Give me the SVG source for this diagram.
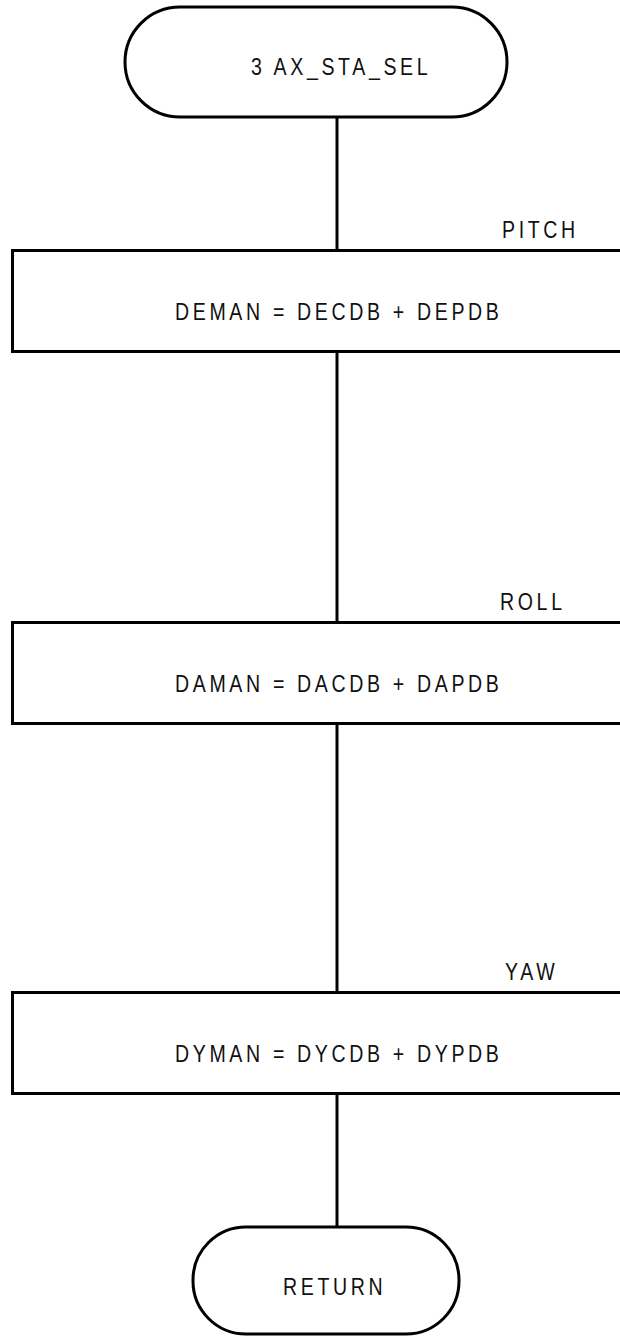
<svg xmlns="http://www.w3.org/2000/svg" width="620" height="1336" viewBox="0 0 620 1336">
<style>
.shape{fill:#fff;stroke:#000;stroke-width:3}
.conn{stroke:#000;stroke-width:3;fill:none}
text{font-family:"Liberation Sans",Arial,sans-serif;font-size:23px;letter-spacing:4.3px;fill:#111}
</style>
<rect width="620" height="1336" fill="#fff"/>
<g id="connectors">
<line class="conn" x1="337" y1="117" x2="337" y2="250"/>
<line class="conn" x1="337" y1="352" x2="337" y2="622"/>
<line class="conn" x1="337" y1="724" x2="337" y2="992"/>
<line class="conn" x1="337" y1="1094" x2="337" y2="1227"/>
</g>
<g id="start">
<rect class="shape" x="125" y="7" width="382" height="110" rx="55" ry="55"/>
<text transform="translate(251,75) scale(0.85,1)">3 AX_STA_SEL</text>
</g>
<g id="pitch">
<rect class="shape" x="12.5" y="250.5" width="620" height="101"/>
<text transform="translate(502,238) scale(0.85,1)">PITCH</text>
<text transform="translate(175,320) scale(0.85,1)">DEMAN = DECDB + DEPDB</text>
</g>
<g id="roll">
<rect class="shape" x="12.5" y="622.5" width="620" height="101"/>
<text transform="translate(500,610) scale(0.85,1)">ROLL</text>
<text transform="translate(175,692) scale(0.85,1)">DAMAN = DACDB + DAPDB</text>
</g>
<g id="yaw">
<rect class="shape" x="12.5" y="992.5" width="620" height="101"/>
<text transform="translate(505,980) scale(0.85,1)">YAW</text>
<text transform="translate(175,1062) scale(0.85,1)">DYMAN = DYCDB + DYPDB</text>
</g>
<g id="return">
<rect class="shape" x="193" y="1227" width="266" height="107" rx="53" ry="53"/>
<text transform="translate(283,1295) scale(0.85,1)">RETURN</text>
</g>
</svg>
